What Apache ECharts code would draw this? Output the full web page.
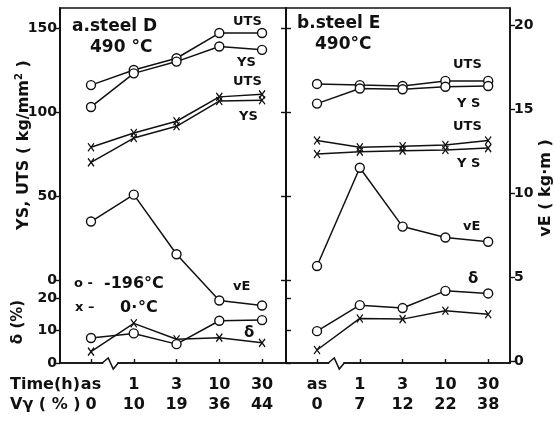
<!DOCTYPE html>
<html><head><meta charset="utf-8">
<script src="https://cdn.jsdelivr.net/npm/echarts@6/dist/echarts.min.js"></script>
<style>html,body{margin:0;padding:0;background:#fff}#c{width:554px;height:423px}</style>
</head><body><div id="c"></div><script>
// categories
const timeLabels = ['as', '1', '3', '10', '30'];
const vgD = ['0', '10', '19', '36', '44'];
const vgE = ['0', '7', '12', '22', '38'];
// ticks
const strengthTicks = [0, 50, 100, 150];
const deltaTicks = [0, 10, 20];
const vETicks = [0, 5, 10, 15, 20];
const catTicks = [0, 1, 2, 3, 4];
// steel D (kg/mm2), -196 C (circles) and 0 C (x)
const utsD_196 = [116, 125, 132, 147, 147];
const ysD_196 = [103, 123, 130, 139, 137];
const utsD_0 = [79, 87.5, 94.5, 109, 110.5];
const ysD_0 = [70, 84.5, 91.5, 106.5, 107];
const vED = [8.3, 9.9, 6.35, 3.6, 3.3];       // kg.m
const deltaD_196 = [7.7, 9.1, 5.8, 13.0, 13.2]; // %
const deltaD_0 = [3.5, 12.2, 7.3, 7.8, 6.2];
// steel E
const utsE_196 = [116.7, 116, 115.5, 118.5, 118.5];
const ysE_196 = [105, 114, 113.5, 115, 115.5];
const utsE_0 = [83, 79, 79.6, 80.4, 83];
const ysE_0 = [75, 76.4, 77, 77.4, 78.5];
const vEE = [5.65, 11.5, 8.0, 7.35, 7.1];
const deltaE_196 = [9.8, 17.8, 16.9, 22.2, 21.4];
const deltaE_0 = [4.0, 13.7, 13.5, 16.1, 15.0];

const FONT = 'DejaVu Sans';
const INK = '#111';
const chart = echarts.init(document.getElementById('c'), null, {renderer: 'canvas'});
const pairs = arr => arr.map((v, i) => [i, v]);
const XSYM = 'path://M0,0L10,13M10,0L0,13';
function ser(xi, yi, arr, kind) {
  const circ = kind === 'o';
  return {
    type: 'line', xAxisIndex: xi, yAxisIndex: yi, data: pairs(arr),
    symbol: circ ? 'circle' : XSYM,
    symbolSize: circ ? 9 : [6, 8],
    showSymbol: true, silent: true, animation: false,
    lineStyle: {color: INK, width: 1.5},
    itemStyle: circ ? {color: '#fff', borderColor: INK, borderWidth: 1.4}
                    : {color: 'none', borderColor: INK, borderWidth: 1.3},
    z: circ ? 3 : 2
  };
}
function yAx(grid, min, max, ticks, opts) {
  return Object.assign({
    type: 'value', gridIndex: grid, min: min, max: max, position: 'left',
    splitLine: {show: false},
    axisLine: {show: true, onZero: false, lineStyle: {color: INK, width: 1.6}},
    axisTick: {show: true, inside: false, length: 5, customValues: ticks, lineStyle: {color: INK, width: 1.4}},
    axisLabel: {show: true, customValues: ticks, fontSize: 14, fontWeight: 'bold', fontFamily: FONT, color: INK, margin: 3}
  }, opts || {});
}
function xAx(grid, min, max, vg) {
  return {
    type: 'value', gridIndex: grid, min: min, max: max,
    splitLine: {show: false},
    axisLine: {show: true, onZero: false, lineStyle: {color: INK, width: 1.6}},
    axisTick: {show: true, inside: true, length: 4, customValues: catTicks, lineStyle: {color: INK, width: 1.4}},
    axisLabel: {show: true, customValues: catTicks, fontSize: 16, fontWeight: 'bold', fontFamily: FONT, color: INK,
      margin: 12, lineHeight: 20,
      formatter: v => timeLabels[v] + '\n' + vg[v]}
  };
}
const strMin = -49.4, strMax = 161.9, dMin = 0, dMax = 109.2, vMin = -0.12, vMax = 21.01;

function txt(x, y, s, size, weight) {
  return {type: 'text', x: x, y: y, silent: true,
    style: {text: s, font: (weight || 'bold') + ' ' + (size || 15) + 'px "' + FONT + '"', fill: INK,
      textAlign: 'left', textVerticalAlign: 'middle'}};
}
function vtxt(x, y, s, size, rich) {
  return {type: 'text', x: x, y: y, rotation: Math.PI / 2, silent: true,
    style: {text: s, font: 'bold ' + size + 'px "' + FONT + '"', fill: INK,
      textAlign: 'center', textVerticalAlign: 'middle', rich: rich}};
}

const option = {
  backgroundColor: '#fff',
  animation: false,
  grid: [
    {left: 60, top: 8, width: 226, height: 355, show: true, borderColor: INK, borderWidth: 1.6, backgroundColor: 'transparent'},
    {left: 286, top: 8, width: 224, height: 355, show: true, borderColor: INK, borderWidth: 1.6, backgroundColor: 'transparent'}
  ],
  xAxis: [xAx(0, -0.725, 4.56, vgD), xAx(1, -0.725, 4.51, vgE)],
  yAxis: [
    yAx(0, strMin, strMax, strengthTicks),
    yAx(0, dMin, dMax, deltaTicks),
    {type: 'value', gridIndex: 0, min: vMin, max: vMax, show: false},
    yAx(1, strMin, strMax, strengthTicks, {axisLabel: {show: false}, axisTick: {show: true, inside: true, length: 5, customValues: strengthTicks, lineStyle: {color: INK, width: 1.4}}}),
    yAx(1, strMin, strMax, strengthTicks, {axisLabel: {show: false}, axisLine: {show: false, onZero: false}}),
    yAx(1, dMin, dMax, deltaTicks, {axisLabel: {show: false}, axisTick: {show: true, inside: true, length: 5, customValues: deltaTicks, lineStyle: {color: INK, width: 1.4}}}),
    yAx(1, vMin, vMax, vETicks, {position: 'right', axisLabel: {show: true, customValues: vETicks, fontSize: 14, fontWeight: 'bold', fontFamily: FONT, color: INK, margin: 4}})
  ],
  series: [
    ser(0, 0, utsD_196, 'o'), ser(0, 0, ysD_196, 'o'),
    ser(0, 0, utsD_0, 'x'), ser(0, 0, ysD_0, 'x'),
    ser(0, 2, vED, 'o'),
    ser(0, 1, deltaD_196, 'o'), ser(0, 1, deltaD_0, 'x'),
    ser(1, 3, utsE_196, 'o'), ser(1, 3, ysE_196, 'o'),
    ser(1, 3, utsE_0, 'x'), ser(1, 3, ysE_0, 'x'),
    ser(1, 6, vEE, 'o'),
    ser(1, 5, deltaE_196, 'o'), ser(1, 5, deltaE_0, 'x')
  ],
  graphic: [
    txt(72, 27, 'a.steel D', 17),
    txt(90, 48, '490 °C', 17),
    txt(297, 24, 'b.steel E', 17),
    txt(315, 45, '490°C', 17),
    txt(233, 22, 'UTS', 13), txt(237, 63, 'YS', 13),
    txt(233, 82, 'UTS', 13), txt(239, 117, 'YS', 13),
    txt(453, 65, 'UTS', 13), txt(457, 104, 'Y S', 13),
    txt(453, 127, 'UTS', 13), txt(457, 164, 'Y S', 13),
    txt(233, 287, 'vE', 13), txt(244, 333, 'δ', 15),
    txt(463, 227, 'vE', 13), txt(468, 279, 'δ', 15),
    txt(74, 284, 'o -', 13), txt(104, 284, '-196°C', 16),
    txt(75, 308, 'x –', 13), txt(120, 308, '0·', 16), txt(138, 308, '°C', 16),
    txt(10, 385, 'Time(h)', 16),
    txt(10, 405, 'Vγ ( % )', 16),
    vtxt(24, 145, 'YS, UTS ( kg/mm{s|2} )', 16, {s: {fontSize: 10, fontWeight: 'bold', fontFamily: FONT, fill: INK, padding: [0, 0, 9, 0]}}),
    vtxt(546, 188, 'vE ( kg·m )', 16),
    vtxt(18, 322, 'δ (%)', 15)
  ]
};
chart.setOption(option);

// axis break zigzags between "as" and the first time value
const breaks = [];
[0, 1].forEach(function (gi) {
  const px = chart.convertToPixel({xAxisIndex: gi}, 0.45);
  const py = chart.convertToPixel({yAxisIndex: gi === 0 ? 1 : 5}, 0);
  breaks.push({type: 'rect', silent: true, shape: {x: px - 7, y: py - 2, width: 14, height: 4}, style: {fill: '#fff'}, z: 100});
  breaks.push({type: 'polyline', silent: true, z: 101,
    shape: {points: [[px - 8, py], [px - 2, py - 5], [px + 3, py + 6], [px + 8, py]]},
    style: {stroke: INK, lineWidth: 1.5, fill: null}});
});
chart.setOption({graphic: option.graphic.concat(breaks)});
</script></body></html>
